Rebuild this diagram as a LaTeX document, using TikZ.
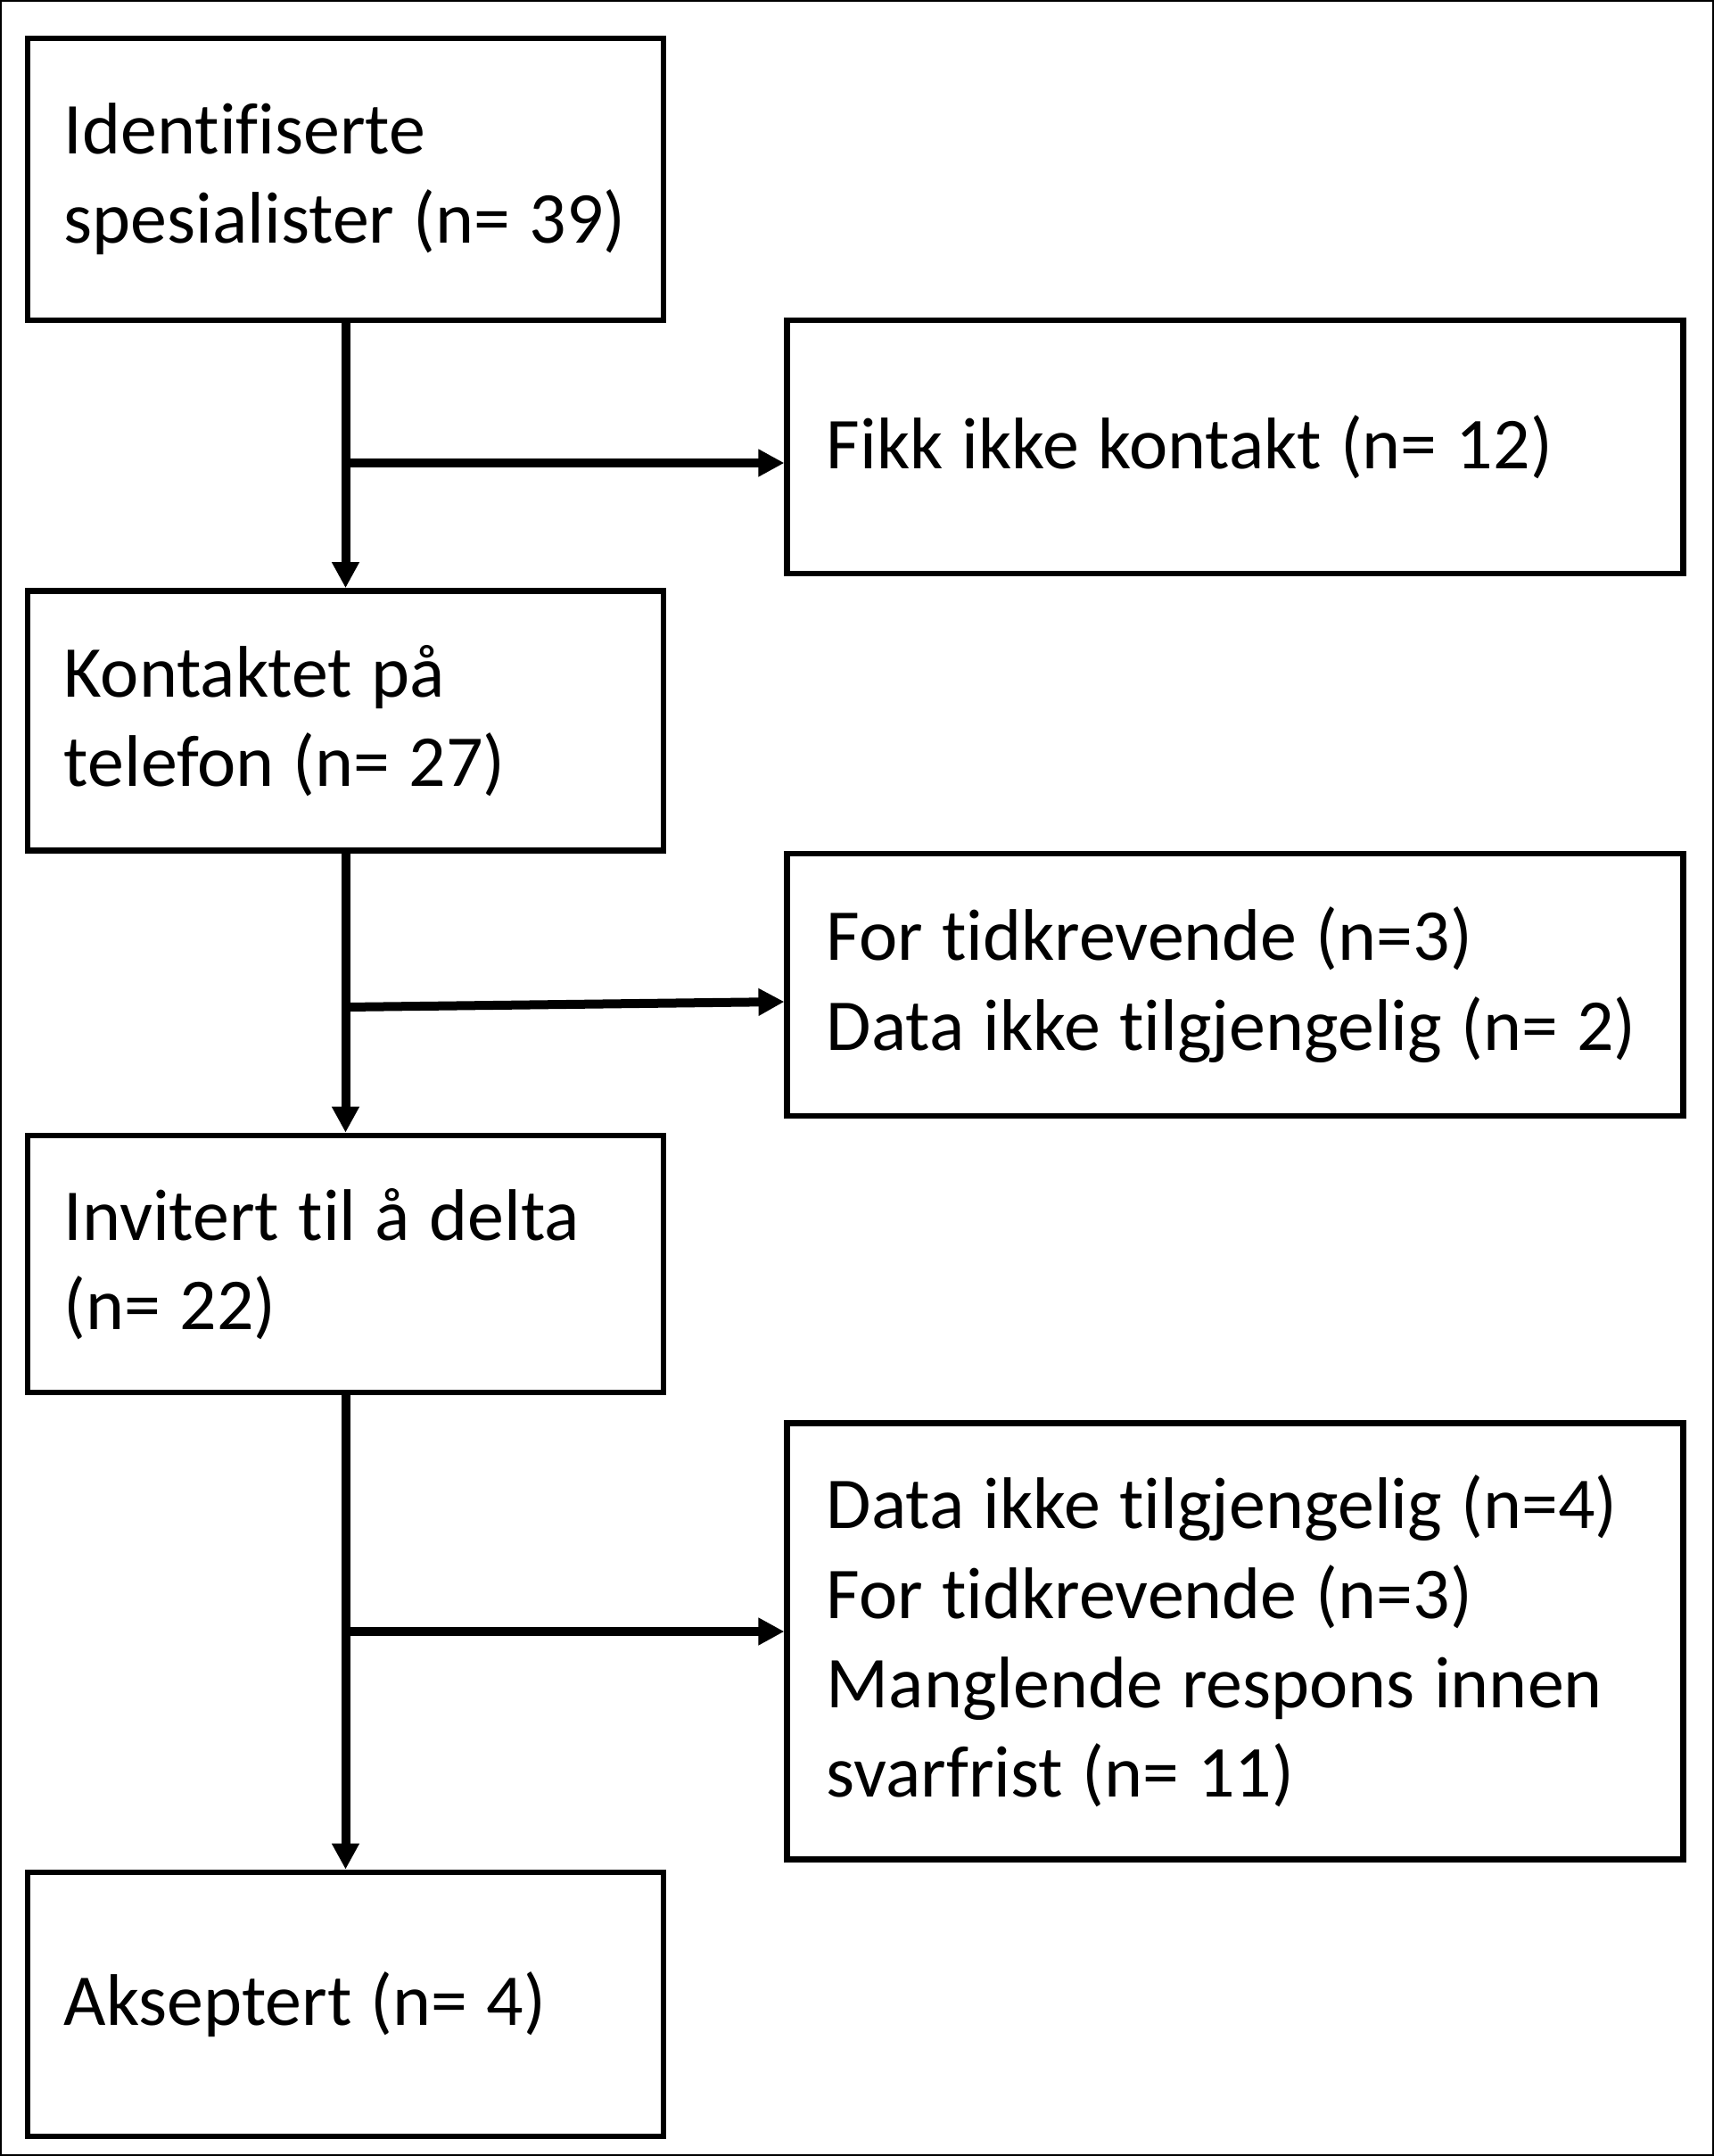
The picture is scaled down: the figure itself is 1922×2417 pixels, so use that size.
\documentclass[tikz,border=0pt]{standalone}
\usepackage{fontspec}
\setmainfont{Carlito}[RawFeature={-liga;-clig;-calt}]
\usetikzlibrary{arrows.meta}
\tikzset{box/.style={draw=black, line width=0.065cm, rectangle, inner ysep=0pt, font=\fontsize{23.3pt}{28.5pt}\selectfont,
   execute at begin node={\spaceskip=0.26em plus 0.1em\relax}},
 lbox/.style={box, inner xsep=0.41cm, text width=6.31cm},
 rbox/.style={box, inner xsep=0.44cm, text width=9.16cm},
 arr/.style={line width=0.1cm, -{Triangle[length=0.29cm,width=0.29cm]}}}

\begin{document}
\begin{tikzpicture}[x=0.01cm, y=-0.01cm]
       \useasboundingbox (0,0) rectangle (1922,2417);
       \draw[line width=0.015cm] (1,1) rectangle (1921,2416);
       % left column
       \node[lbox, minimum height=3.16cm] (id)  at ( 387.5,  201) {Identifiserte\\spesialister (n= 39)};
       \node[lbox, minimum height=2.91cm] (kt)  at ( 387.5,  808) {Kontaktet på\\telefon (n= 27)};
       \node[lbox, minimum height=2.88cm] (inv) at ( 387.5, 1417) {Invitert til å delta\\(n= 22)};
       \node[lbox, minimum height=2.96cm] (ak)  at ( 387.5, 2247) {Akseptert (n= 4)};
       % right column
       \node[rbox, minimum height=2.84cm] (nk)  at (1385.0,  501) {Fikk ikke kontakt (n= 12)};
       \node[rbox, minimum height=2.94cm] (fr1) at (1385.0, 1104) {For tidkrevende (n=3)\\Data ikke tilgjengelig (n= 2)};
       \node[rbox, minimum height=4.89cm] (fr2) at (1385.0, 1840) {Data ikke tilgjengelig (n=4)\\For tidkrevende (n=3)\\Manglende respons innen\\svarfrist (n= 11)};
       % junctions
       \coordinate (g1) at (387.5,  519);
       \coordinate (g2) at (387.5, 1129);
       \coordinate (g3) at (387.5, 1829);
       \draw[arr] (id) -- (kt);
       \draw[arr] (kt) -- (inv);
       \draw[arr] (inv) -- (ak);
       \draw[arr] (g1) -- (g1 -| nk.west);
       \draw[arr] (g2) -- (fr1.west |- 0,1123);
       \draw[arr] (g3) -- (g3 -| fr2.west);
      \end{tikzpicture}
\end{document}
